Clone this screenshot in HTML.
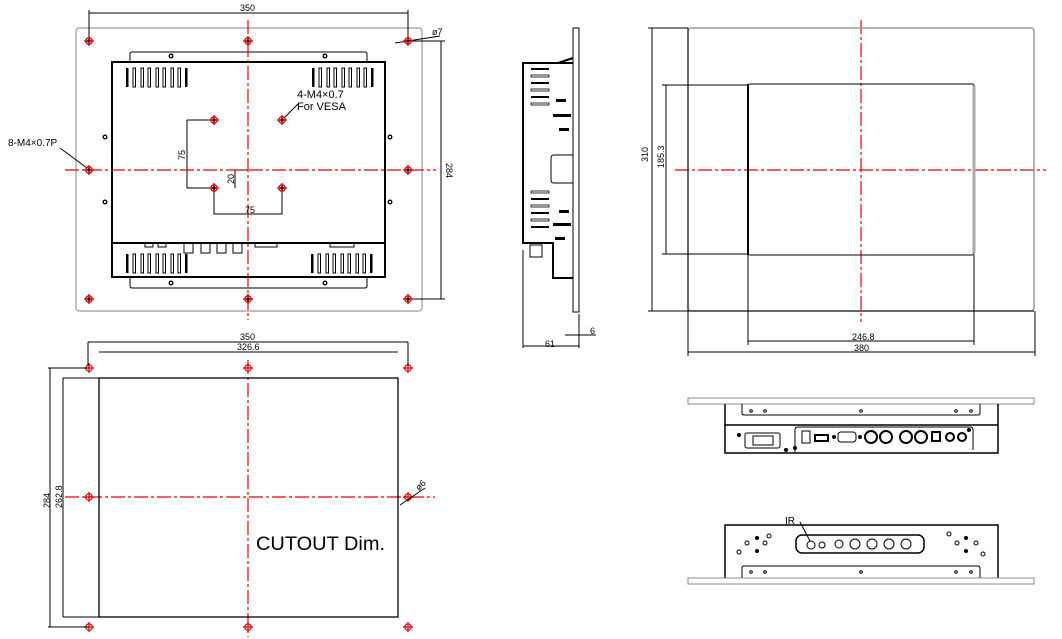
<!DOCTYPE html>
<html><head><meta charset="utf-8"><style>
html,body{margin:0;padding:0;background:#fff}
svg{display:block}
text{font-family:"Liberation Sans",sans-serif;fill:#000}
</style></head><body>
<svg width="1062" height="639" viewBox="0 0 1062 639" xmlns="http://www.w3.org/2000/svg">
<defs>
<g id="rh"><circle r="3.2" fill="none" stroke="#d00" stroke-width="1.3"/><path d="M-5 0H5M0-5V5" stroke="#d00" stroke-width="1.3"/><circle r="1.6" fill="#000"/></g>
<g id="ch"><circle r="3.2" fill="none" stroke="#d00" stroke-width="1.2"/><path d="M-5 0H5M0-5V5" stroke="#d00" stroke-width="1.2"/></g>
</defs>
<g fill="none" stroke="#000" stroke-width="1">
<rect x="76" y="28" width="346" height="283" rx="3" stroke="#999" stroke-width="1.2"/>
<path d="M130 62V54q0-2 2-2h233q2 0 2 2v8"/>
<path d="M130 277v9q0 2 2 2h233q2 0 2-2v-9"/>
<rect x="112" y="62" width="273" height="215" stroke-width="2"/>
<line x1="112" y1="243" x2="385" y2="243" stroke-width="2"/>
<circle cx="171" cy="56" r="1.8" stroke-width="1.3"/><circle cx="325" cy="56" r="1.8" stroke-width="1.3"/>
<circle cx="171" cy="283" r="1.8" stroke-width="1.3"/><circle cx="325" cy="283" r="1.8" stroke-width="1.3"/>
<circle cx="105" cy="137" r="1.8" stroke-width="1.3"/><circle cx="105" cy="202" r="1.8" stroke-width="1.3"/>
<circle cx="390" cy="137" r="1.8" stroke-width="1.3"/><circle cx="390" cy="202" r="1.8" stroke-width="1.3"/>
<rect x="145" y="243" width="8" height="4"/><rect x="158" y="243" width="8" height="4"/>
<rect x="184" y="243" width="9" height="10"/><rect x="201" y="243" width="9" height="10"/><rect x="217" y="243" width="9" height="10"/><rect x="233" y="243" width="9" height="10"/>
<rect x="255" y="243" width="22" height="4"/><rect x="330" y="243" width="24" height="4"/>
<path d="M89 13H408M89 10V41M408 10V41"/>
<path d="M441 41V299M412 41H445M412 299H445"/>
<path d="M187 120V188M187 120H214M187 188H214"/>
<path d="M235 170V188M235 170H248"/>
<path d="M214 188V214H282V188"/>
<path d="M60 148L87 168"/><path d="M284 118L298 104"/>
<path d="M395 43L440 36"/>
</g>
<g fill="#000">
<g id="vl"><rect x="126" y="68" width="2.5" height="19"/><rect x="133" y="68" width="2.5" height="19" fill="none" stroke="#000"/><rect x="141" y="68" width="2.5" height="19" fill="none" stroke="#000"/><rect x="148" y="68" width="2.5" height="19" fill="none" stroke="#000"/><rect x="156" y="68" width="2.5" height="19" fill="none" stroke="#000"/><rect x="163" y="68" width="2.5" height="19" fill="none" stroke="#000"/><rect x="171" y="68" width="2.5" height="19" fill="none" stroke="#000"/><rect x="178" y="68" width="2.5" height="19" fill="none" stroke="#000"/><rect x="185" y="68" width="2.5" height="19"/></g>
<use href="#vl" x="186" y="0"/>
<use href="#vl" x="0" y="186"/>
<use href="#vl" x="185" y="186"/>
</g>
<g stroke="#e00" stroke-width="1.2" stroke-dasharray="14,3,3,3" fill="none">
<path d="M248 20V320M65 170H436"/>
<path d="M248 360V637M65 497H435"/>
<path d="M861 20V322M675 170H1046"/>
</g>
<g>
<use href="#rh" x="89" y="41"/><use href="#rh" x="248" y="41"/><use href="#rh" x="408" y="41"/>
<use href="#rh" x="89" y="170"/><use href="#rh" x="408" y="170"/>
<use href="#rh" x="89" y="299"/><use href="#rh" x="248" y="299"/><use href="#rh" x="408" y="299"/>
<use href="#rh" x="214" y="120"/><use href="#rh" x="282" y="120"/><use href="#rh" x="214" y="188"/><use href="#rh" x="282" y="188"/>
<use href="#ch" x="89" y="368"/><use href="#ch" x="248" y="368"/><use href="#ch" x="408" y="368"/>
<use href="#ch" x="89" y="497"/><use href="#ch" x="408" y="497"/>
<use href="#ch" x="89" y="627"/><use href="#ch" x="248" y="627"/><use href="#ch" x="408" y="627"/>
</g>
<g font-size="10">
<text x="240" y="11" font-size="9">350</text>
<text x="432" y="35" font-size="9">ø7</text>
<text x="8" y="146" font-size="10">8-M4×0.7P</text>
<text x="297" y="98" font-size="11">4-M4×0.7</text>
<text x="297" y="110" font-size="11">For VESA</text>
<text x="245" y="213" font-size="9">75</text>
<text transform="translate(185,160) rotate(-90)" font-size="9">75</text>
<text transform="translate(234,184) rotate(-90)" font-size="9">20</text>
<text transform="translate(446,163) rotate(90)" font-size="9">284</text>
</g>
<g fill="none" stroke="#000">
<rect x="573" y="28" width="6" height="284"/>
<path d="M573 63H523V243H553V278H573" stroke-width="2"/>
<path d="M558 63L573 58" stroke-width="2"/>
<path d="M554 155h19M554 183h19M554 155q-3 0-3 3v22q0 3 3 3"/>
<rect x="530" y="245" width="12" height="12"/>
<path d="M523 250V348M579 314V348M523 346H579M565 335H596"/>
</g>
<g fill="#000">
<rect x="531" y="68" width="18" height="2"/><rect x="531" y="75" width="18" height="2" fill="none" stroke="#000" stroke-width=".8"/><rect x="531" y="82" width="18" height="2"/><rect x="531" y="89" width="18" height="2" fill="none" stroke="#000" stroke-width=".8"/><rect x="531" y="96" width="18" height="2"/><rect x="531" y="103" width="18" height="2" fill="none" stroke="#000" stroke-width=".8"/>
<rect x="531" y="191" width="18" height="2" fill="none" stroke="#000" stroke-width=".8"/><rect x="531" y="198" width="18" height="2"/><rect x="531" y="205" width="18" height="2" fill="none" stroke="#000" stroke-width=".8"/><rect x="531" y="212" width="18" height="2"/><rect x="531" y="219" width="18" height="2" fill="none" stroke="#000" stroke-width=".8"/><rect x="531" y="226" width="18" height="2"/>
<rect x="556" y="99" width="10" height="3"/><rect x="553" y="114" width="18" height="3"/><rect x="559" y="128" width="10" height="3"/>
<rect x="559" y="210" width="10" height="3"/><rect x="553" y="223" width="18" height="3"/><rect x="555" y="237" width="10" height="3"/>
<text x="545" y="347" font-size="9">61</text><text x="590" y="334" font-size="9">6</text>
</g>
<g fill="none" stroke="#000">
<rect x="688" y="28" width="346" height="283" rx="3" stroke="#999" stroke-width="1.5"/>
<rect x="748" y="84" width="226" height="171" rx="2"/>
<line x1="748" y1="84" x2="748" y2="255" stroke-width="2"/>
<line x1="974" y1="86" x2="974" y2="253" stroke="#aaa" stroke-width="3"/>
<path d="M652 28V311M648 28H688M648 311H1034"/>
<path d="M666 85V254M662 85H748M662 254H748"/>
<path d="M688 28V356M1035 311V356M748 255V345M974 255V345M748 341H974M688 352H1035"/>
</g>
<g font-size="9" fill="#000">
<text x="852" y="340">246.8</text><text x="854" y="351">380</text>
<text transform="translate(648,162) rotate(-90)">310</text>
<text transform="translate(664,168) rotate(-90)">185.3</text>
</g>
<g fill="none" stroke="#000">
<rect x="688" y="398" width="346" height="6" stroke="#888"/>
<path d="M725 404V453H998V404" stroke-width="1.5"/>
<line x1="725" y1="425" x2="998" y2="425" stroke-width="1.5"/>
<path d="M742 404v9q0 2 2 2h234q2 0 2-2v-9"/>
<circle cx="751" cy="411" r="1.3"/><circle cx="765" cy="411" r="1.3"/><circle cx="861" cy="411" r="1.3"/><circle cx="956" cy="411" r="1.3"/><circle cx="971" cy="411" r="1.3"/>
<rect x="745" y="433" width="35" height="15" rx="2"/><rect x="753" y="436" width="20" height="9"/>
<path d="M795 452V430q0-3 3-3h172q3 0 3 3v20"/>
<rect x="802" y="431" width="8" height="12"/><rect x="815" y="435" width="13" height="6" stroke-width="2"/>
<rect x="838" y="432" width="18" height="10" rx="3"/>
<circle cx="871" cy="437" r="6" stroke-width="2"/><circle cx="886" cy="437" r="6" stroke-width="2"/><circle cx="906" cy="437" r="6" stroke-width="2"/><circle cx="921" cy="437" r="6" stroke-width="2"/>
<rect x="932" y="432" width="8" height="9" stroke-width="2"/><circle cx="950" cy="437" r="4" stroke-width="2"/><circle cx="962" cy="437" r="4" stroke-width="2"/>
</g>
<g fill="#000"><circle cx="739" cy="435" r="2"/><circle cx="786" cy="450" r="2"/><circle cx="795" cy="448" r="2"/><circle cx="834" cy="437" r="2"/><circle cx="860" cy="437" r="2"/><circle cx="969" cy="430" r="2"/></g>
<g fill="none" stroke="#000">
<path d="M725 578V525H998V578" stroke-width="1.5"/>
<path d="M742 578v-10q0-2 2-2h234q2 0 2 2v10"/>
<rect x="688" y="578" width="346" height="6" stroke="#888"/>
<circle cx="751" cy="572" r="1.3"/><circle cx="765" cy="572" r="1.3"/><circle cx="861" cy="572" r="1.3"/><circle cx="956" cy="572" r="1.3"/><circle cx="971" cy="572" r="1.3"/>
<rect x="796" y="535" width="128" height="18" rx="6" stroke-width="1.5"/>
<circle cx="811" cy="545" r="4"/><circle cx="822" cy="545" r="3"/><circle cx="839" cy="544" r="4"/>
<circle cx="855" cy="544" r="5"/><circle cx="872" cy="544" r="5"/><circle cx="889" cy="544" r="5"/><circle cx="906" cy="544" r="5"/>
<circle cx="769" cy="536" r="2"/><circle cx="747" cy="543" r="2"/><circle cx="765" cy="543" r="2"/><circle cx="739" cy="552" r="2"/>
<circle cx="949" cy="534" r="2"/><circle cx="957" cy="543" r="2"/><circle cx="976" cy="543" r="2"/><circle cx="983" cy="554" r="2"/>
<path d="M800 522L810 541"/>
</g>
<g fill="#000"><circle cx="757" cy="538" r="2"/><circle cx="757" cy="551" r="2"/><circle cx="966" cy="538" r="2"/><circle cx="966" cy="551" r="2"/>
<text x="785" y="524" font-size="10">IR</text></g>
<g fill="none" stroke="#000">
<rect x="99" y="378" width="299" height="239" stroke-width="1.3"/>
<path d="M63 378H99M63 378V617M63 617H99"/>
<path d="M48 368H89M50 368V627M48 627H89"/>
<path d="M88 342H408M88 342V366M408 342V366"/>
<path d="M99 352H398"/>
<path d="M400 505L425 488"/>
</g>
<g fill="#000" font-size="9">
<text x="240" y="340">350</text><text x="237" y="350">326.6</text>
<text transform="translate(50,508) rotate(-90)">284</text>
<text transform="translate(62,508) rotate(-90)">262.8</text>
<text transform="translate(419,491) rotate(-45)">ø6</text>
<text x="256" y="550" font-size="19" textLength="129" lengthAdjust="spacingAndGlyphs">CUTOUT  Dim.</text>
</g>
</svg>
</body></html>
